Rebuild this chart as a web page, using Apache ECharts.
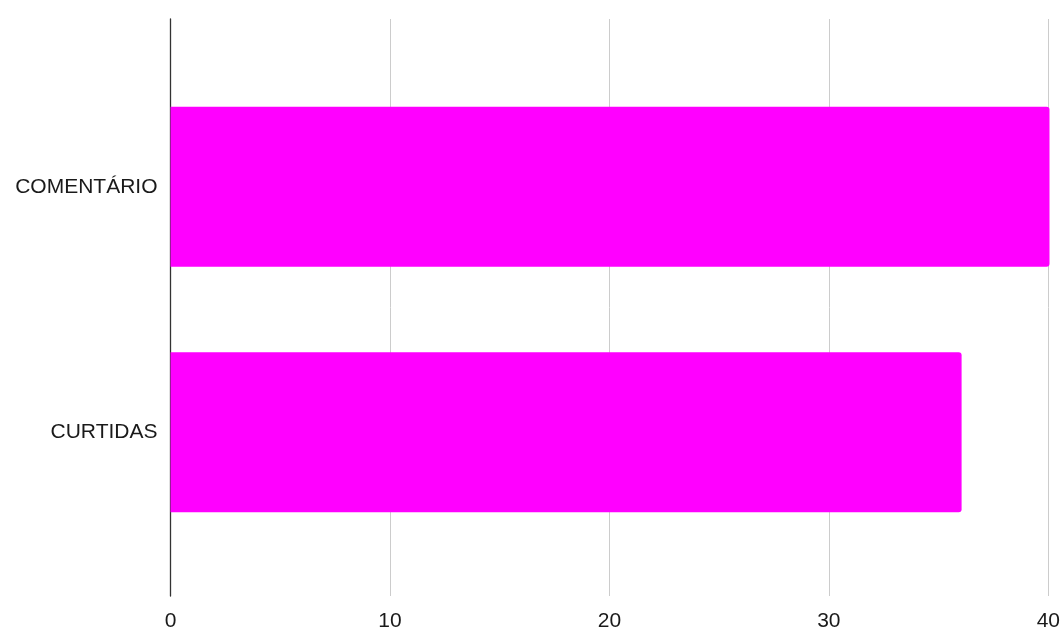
<!DOCTYPE html>
<html>
<head>
<meta charset="utf-8">
<script src="https://cdn.jsdelivr.net/npm/echarts@6/dist/echarts.min.js"></script>
<style>html,body{margin:0;padding:0;background:#fff}#c{width:1063px;height:632px}</style>
</head>
<body>
<div id="c"></div>
<script>
const categories = ['COMENTÁRIO', 'CURTIDAS'];
const values = [40, 36];
const xTicks = [0, 10, 20, 30, 40];

const chart = echarts.init(document.getElementById('c'));
const font = 'Liberation Sans, Arial, sans-serif';
chart.setOption({
  animation: false,
  grid: [
    { left: 170.5, right: 13.5, top: 19, bottom: 34 },
    { left: 170.5, right: 13.5, top: 64, bottom: 77 }
  ],
  xAxis: [
    {
      gridIndex: 0, type: 'value', min: xTicks[0], max: xTicks[xTicks.length - 1], interval: 10,
      axisLine: { show: false }, axisTick: { show: false },
      splitLine: { show: true, lineStyle: { color: '#cccccc', width: 1 } },
      axisLabel: { color: '#1a1a1a', fontSize: 21, fontFamily: font, margin: 15 }
    },
    {
      gridIndex: 1, type: 'value', min: xTicks[0], max: xTicks[xTicks.length - 1], interval: 10,
      show: false
    }
  ],
  yAxis: [
    {
      gridIndex: 0, type: 'category', data: categories, inverse: true,
      axisLine: { show: true, lineStyle: { color: '#333', width: 1.3 } },
      axisTick: { show: false }, axisLabel: { show: false }, splitLine: { show: false }
    },
    {
      gridIndex: 1, type: 'category', data: categories, inverse: true,
      axisLine: { show: false }, axisTick: { show: false },
      axisLabel: { color: '#1a1a1a', fontSize: 21, fontFamily: font, margin: 13 }
    }
  ],
  series: [{
    type: 'bar', xAxisIndex: 1, yAxisIndex: 1, data: values,
    barWidth: 160,
    itemStyle: { color: '#ff00ff', borderRadius: [0, 3, 3, 0] }
  }]
});
</script>
</body>
</html>
